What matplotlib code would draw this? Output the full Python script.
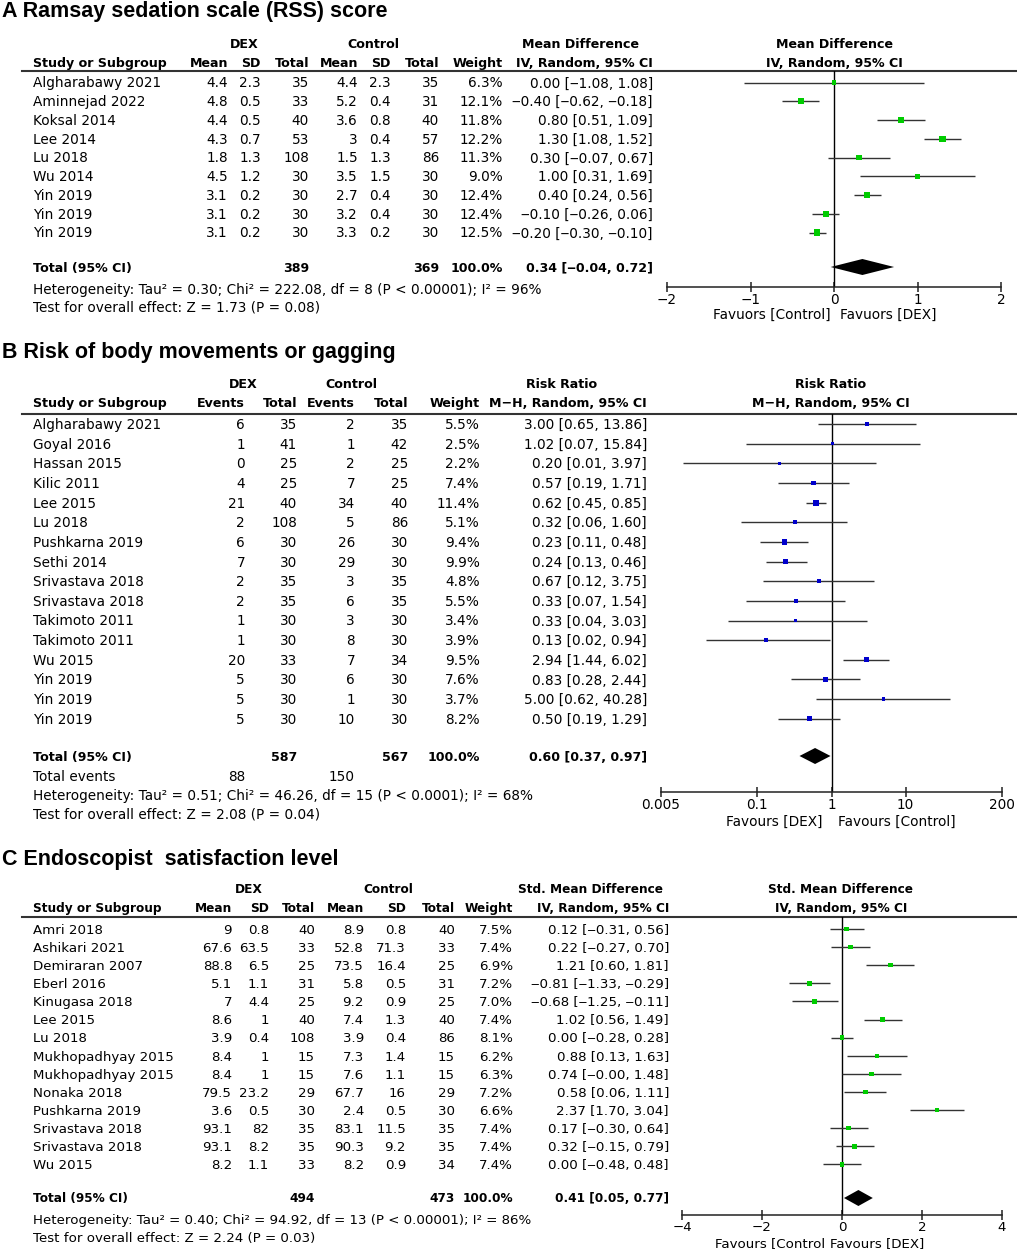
import numpy as np
import matplotlib.pyplot as plt
from matplotlib.ticker import FixedLocator, FixedFormatter, NullLocator

# ---- Panel A: Ramsay sedation scale (mean difference) ----
studies_a = ["Algharabawy 2021", "Aminnejad 2022", "Koksal 2014", "Lee 2014", "Lu 2018",
             "Wu 2014", "Yin 2019", "Yin 2019", "Yin 2019"]
dex_mean_a = [4.4, 4.8, 4.4, 4.3, 1.8, 4.5, 3.1, 3.1, 3.1]
dex_sd_a = [2.3, 0.5, 0.5, 0.7, 1.3, 1.2, 0.2, 0.2, 0.2]
dex_n_a = [35, 33, 40, 53, 108, 30, 30, 30, 30]
ctl_mean_a = [4.4, 5.2, 3.6, 3, 1.5, 3.5, 2.7, 3.2, 3.3]
ctl_sd_a = [2.3, 0.4, 0.8, 0.4, 1.3, 1.5, 0.4, 0.4, 0.2]
ctl_n_a = [35, 31, 40, 57, 86, 30, 30, 30, 30]
weight_a = [6.3, 12.1, 11.8, 12.2, 11.3, 9.0, 12.4, 12.4, 12.5]
est_a = [0.00, -0.40, 0.80, 1.30, 0.30, 1.00, 0.40, -0.10, -0.20]
lo_a = [-1.08, -0.62, 0.51, 1.08, -0.07, 0.31, 0.24, -0.26, -0.30]
hi_a = [1.08, -0.18, 1.09, 1.52, 0.67, 1.69, 0.56, 0.06, -0.10]
total_a = (389, 369)
pooled_a = (0.34, -0.04, 0.72)
het_a = "Heterogeneity: Tau² = 0.30; Chi² = 222.08, df = 8 (P < 0.00001); I² = 96%"
test_a = "Test for overall effect: Z = 1.73 (P = 0.08)"
ticks_a = [-2, -1, 0, 1, 2]

# ---- Panel B: body movements or gagging (risk ratio) ----
studies_b = ["Algharabawy 2021", "Goyal 2016", "Hassan 2015", "Kilic 2011", "Lee 2015",
             "Lu 2018", "Pushkarna 2019", "Sethi 2014", "Srivastava 2018", "Srivastava 2018",
             "Takimoto 2011", "Takimoto 2011", "Wu 2015", "Yin 2019", "Yin 2019", "Yin 2019"]
dex_ev_b = [6, 1, 0, 4, 21, 2, 6, 7, 2, 2, 1, 1, 20, 5, 5, 5]
dex_n_b = [35, 41, 25, 25, 40, 108, 30, 30, 35, 35, 30, 30, 33, 30, 30, 30]
ctl_ev_b = [2, 1, 2, 7, 34, 5, 26, 29, 3, 6, 3, 8, 7, 6, 1, 10]
ctl_n_b = [35, 42, 25, 25, 40, 86, 30, 30, 35, 35, 30, 30, 34, 30, 30, 30]
weight_b = [5.5, 2.5, 2.2, 7.4, 11.4, 5.1, 9.4, 9.9, 4.8, 5.5, 3.4, 3.9, 9.5, 7.6, 3.7, 8.2]
est_b = [3.00, 1.02, 0.20, 0.57, 0.62, 0.32, 0.23, 0.24, 0.67, 0.33, 0.33, 0.13, 2.94, 0.83, 5.00, 0.50]
lo_b = [0.65, 0.07, 0.01, 0.19, 0.45, 0.06, 0.11, 0.13, 0.12, 0.07, 0.04, 0.02, 1.44, 0.28, 0.62, 0.19]
hi_b = [13.86, 15.84, 3.97, 1.71, 0.85, 1.60, 0.48, 0.46, 3.75, 1.54, 3.03, 0.94, 6.02, 2.44, 40.28, 1.29]
total_b = (587, 567)
events_b = (88, 150)
pooled_b = (0.60, 0.37, 0.97)
het_b = "Heterogeneity: Tau² = 0.51; Chi² = 46.26, df = 15 (P < 0.0001); I² = 68%"
test_b = "Test for overall effect: Z = 2.08 (P = 0.04)"
ticks_b = [0.005, 0.1, 1, 10, 200]
ticklabels_b = ["0.005", "0.1", "1", "10", "200"]

# ---- Panel C: endoscopist satisfaction (std. mean difference) ----
studies_c = ["Amri 2018", "Ashikari 2021", "Demiraran 2007", "Eberl 2016", "Kinugasa 2018",
             "Lee 2015", "Lu 2018", "Mukhopadhyay 2015", "Mukhopadhyay 2015", "Nonaka 2018",
             "Pushkarna 2019", "Srivastava 2018", "Srivastava 2018", "Wu 2015"]
dex_mean_c = [9, 67.6, 88.8, 5.1, 7, 8.6, 3.9, 8.4, 8.4, 79.5, 3.6, 93.1, 93.1, 8.2]
dex_sd_c = [0.8, 63.5, 6.5, 1.1, 4.4, 1, 0.4, 1, 1, 23.2, 0.5, 82, 8.2, 1.1]
dex_n_c = [40, 33, 25, 31, 25, 40, 108, 15, 15, 29, 30, 35, 35, 33]
ctl_mean_c = [8.9, 52.8, 73.5, 5.8, 9.2, 7.4, 3.9, 7.3, 7.6, 67.7, 2.4, 83.1, 90.3, 8.2]
ctl_sd_c = [0.8, 71.3, 16.4, 0.5, 0.9, 1.3, 0.4, 1.4, 1.1, 16, 0.5, 11.5, 9.2, 0.9]
ctl_n_c = [40, 33, 25, 31, 25, 40, 86, 15, 15, 29, 30, 35, 35, 34]
weight_c = [7.5, 7.4, 6.9, 7.2, 7.0, 7.4, 8.1, 6.2, 6.3, 7.2, 6.6, 7.4, 7.4, 7.4]
est_c = [0.12, 0.22, 1.21, -0.81, -0.68, 1.02, 0.00, 0.88, 0.74, 0.58, 2.37, 0.17, 0.32, 0.00]
lo_c = [-0.31, -0.27, 0.60, -1.33, -1.25, 0.56, -0.28, 0.13, -0.00, 0.06, 1.70, -0.30, -0.15, -0.48]
hi_c = [0.56, 0.70, 1.81, -0.29, -0.11, 1.49, 0.28, 1.63, 1.48, 1.11, 3.04, 0.64, 0.79, 0.48]
total_c = (494, 473)
pooled_c = (0.41, 0.05, 0.77)
het_c = "Heterogeneity: Tau² = 0.40; Chi² = 94.92, df = 13 (P < 0.00001); I² = 86%"
test_c = "Test for overall effect: Z = 2.24 (P = 0.03)"
ticks_c = [-4, -2, 0, 2, 4]

GREEN = "#00cc00"
BLUE = "#0000cc"
LINE = "#333333"

W, H = 1017, 1252
fig = plt.figure(figsize=(W / 100, H / 100), dpi=100)
page = fig.add_axes([0, 0, 1, 1])
page.set_xlim(0, W)
page.set_ylim(H, 0)
page.axis("off")

FS = 9.8
BOLD_SCALE = 0.93


def txt(x, y, s, ha="left", bold=False, size=FS):
    # y is the vertical centre of the capital letters
    if bold:
        size = size * BOLD_SCALE
    page.text(x, y + size * 0.51, s, ha=ha, va="baseline", fontsize=size,
              fontweight="bold" if bold else "normal", family="DejaVu Sans")


def title(y, s):
    page.text(2, y, s, ha="left", va="baseline", fontsize=15.5,
              fontweight="bold", family="Liberation Sans")


def ci(e, l, h):
    return f"{e:.2f} [{l:.2f}, {h:.2f}]".replace("-", "\u2012")


def forest(x0, x1, top, axis_y, xlim, ticks, labels, rows_y, est, lo, hi, weight,
           color, pooled, pooled_y, ref=0, log=False, size=FS):
    ax = fig.add_axes([x0 / W, 1 - axis_y / H, (x1 - x0) / W, (axis_y - top) / H])
    ax.set_facecolor("none")
    if log:
        ax.set_xscale("log")
    ax.set_xlim(*xlim)
    ax.set_ylim(axis_y, top)
    for s in ["top", "left", "right"]:
        ax.spines[s].set_visible(False)
    ax.spines["bottom"].set_linewidth(1.1)
    ax.spines["bottom"].set_color("#222222")
    ax.yaxis.set_visible(False)
    ax.xaxis.set_major_locator(FixedLocator(ticks))
    ax.xaxis.set_major_formatter(FixedFormatter(labels))
    ax.xaxis.set_minor_locator(NullLocator())
    ax.tick_params(axis="x", direction="inout", length=7, width=1.1,
                   color="#222222", pad=1, labelsize=size)
    ax.axvline(ref, color="black", lw=1.0)
    ax.hlines(rows_y, lo, hi, color=LINE, lw=1.0)
    side = 1.75 * np.sqrt(np.array(weight)) * 0.72
    ax.scatter(est, rows_y, marker="s", s=side ** 2, color=color,
               linewidths=0, zorder=3)
    e, l, h = pooled
    ax.fill([l, e, h, e], [pooled_y, pooled_y - 8, pooled_y, pooled_y + 8],
            color="black", lw=0, zorder=3)
    return ax


# ================= Panel A =================
title(17, "A Ramsay sedation scale (RSS) score")
txt(244, 43, "DEX", ha="center", bold=True)
txt(373, 43, "Control", ha="center", bold=True)
txt(580, 43, "Mean Difference", ha="center", bold=True)
txt(834, 43, "Mean Difference", ha="center", bold=True)
txt(33, 62, "Study or Subgroup", bold=True)
cols_a = [228, 261, 309, 358, 391, 439, 503]
for x, s in zip(cols_a, ["Mean", "SD", "Total", "Mean", "SD", "Total", "Weight"]):
    txt(x, 62, s, ha="right", bold=True)
txt(653, 62, "IV, Random, 95% CI", ha="right", bold=True)
txt(834, 62, "IV, Random, 95% CI", ha="center", bold=True)
page.plot([22, W], [71, 71], color="#333333", lw=1.5)

rows_a = 82.5 + 18.75 * np.arange(len(studies_a))
for i, y in enumerate(rows_a):
    txt(33, y, studies_a[i])
    vals = [f"{dex_mean_a[i]:g}", f"{dex_sd_a[i]:g}", str(dex_n_a[i]),
            f"{ctl_mean_a[i]:g}", f"{ctl_sd_a[i]:g}", str(ctl_n_a[i]),
            f"{weight_a[i]:.1f}%"]
    for x, s in zip(cols_a, vals):
        txt(x, y, s, ha="right")
    txt(653, y, ci(est_a[i], lo_a[i], hi_a[i]), ha="right")

txt(33, 267, "Total (95% CI)", bold=True)
txt(309, 267, str(total_a[0]), ha="right", bold=True)
txt(439, 267, str(total_a[1]), ha="right", bold=True)
txt(503, 267, "100.0%", ha="right", bold=True)
txt(653, 267, ci(*pooled_a), ha="right", bold=True)
txt(33, 289, het_a)
txt(33, 307, test_a)

forest(667, 1001, 71, 287, (-2, 2), ticks_a, ["\u22122", "\u22121", "0", "1", "2"],
       rows_a, est_a, lo_a, hi_a, weight_a, GREEN, pooled_a, 267, ref=0)
txt(831, 314, "Favuors [Control]", ha="right")
txt(840, 314, "Favuors [DEX]")

# ================= Panel B =================
title(358, "B Risk of body movements or gagging")
txt(243, 383, "DEX", ha="center", bold=True)
txt(351, 383, "Control", ha="center", bold=True)
txt(562, 383, "Risk Ratio", ha="center", bold=True)
txt(831, 383, "Risk Ratio", ha="center", bold=True)
txt(33, 402, "Study or Subgroup", bold=True)
cols_b = [245, 297, 355, 408, 480]
for x, s in zip(cols_b, ["Events", "Total", "Events", "Total", "Weight"]):
    txt(x, 402, s, ha="right", bold=True)
txt(647, 402, "M\u2212H, Random, 95% CI", ha="right", bold=True)
txt(831, 402, "M\u2212H, Random, 95% CI", ha="center", bold=True)
page.plot([22, W], [413.5, 413.5], color="#333333", lw=1.5)

rows_b = 424 + 19.65 * np.arange(len(studies_b))
for i, y in enumerate(rows_b):
    txt(33, y, studies_b[i])
    vals = [str(dex_ev_b[i]), str(dex_n_b[i]), str(ctl_ev_b[i]), str(ctl_n_b[i]),
            f"{weight_b[i]:.1f}%"]
    for x, s in zip(cols_b, vals):
        txt(x, y, s, ha="right")
    txt(647, y, ci(est_b[i], lo_b[i], hi_b[i]), ha="right")

txt(33, 756, "Total (95% CI)", bold=True)
txt(297, 756, str(total_b[0]), ha="right", bold=True)
txt(408, 756, str(total_b[1]), ha="right", bold=True)
txt(480, 756, "100.0%", ha="right", bold=True)
txt(647, 756, ci(*pooled_b), ha="right", bold=True)
txt(33, 776, "Total events")
txt(245, 776, str(events_b[0]), ha="right")
txt(355, 776, str(events_b[1]), ha="right")
txt(33, 795, het_b)
txt(33, 814, test_b)

forest(661, 1002, 413.5, 792, (0.005, 200), ticks_b, ticklabels_b,
       rows_b, est_b, lo_b, hi_b, weight_b, BLUE, pooled_b, 756, ref=1, log=True)
txt(823, 821, "Favours [DEX]", ha="right")
txt(838, 821, "Favours [Control]")

# ================= Panel C =================
FC = FS * 0.98
FCB = FS * 0.96
title(865, "C Endoscopist  satisfaction level")
txt(249, 889, "DEX", ha="center", bold=True, size=FCB)
txt(388, 889, "Control", ha="center", bold=True, size=FCB)
txt(591, 889, "Std. Mean Difference", ha="center", bold=True, size=FCB)
txt(841, 889, "Std. Mean Difference", ha="center", bold=True, size=FCB)
txt(33, 907.5, "Study or Subgroup", bold=True, size=FCB)
cols_c = [232, 269, 315, 364, 406, 455, 513]
for x, s in zip(cols_c, ["Mean", "SD", "Total", "Mean", "SD", "Total", "Weight"]):
    txt(x, 907.5, s, ha="right", bold=True, size=FCB)
txt(669, 907.5, "IV, Random, 95% CI", ha="right", bold=True, size=FCB)
txt(841, 907.5, "IV, Random, 95% CI", ha="center", bold=True, size=FCB)
page.plot([22, W], [917, 917], color="#333333", lw=1.5)

rows_c = 929 + 18.1 * np.arange(len(studies_c))
for i, y in enumerate(rows_c):
    txt(33, y, studies_c[i], size=FC)
    vals = [f"{dex_mean_c[i]:g}", f"{dex_sd_c[i]:g}", str(dex_n_c[i]),
            f"{ctl_mean_c[i]:g}", f"{ctl_sd_c[i]:g}", str(ctl_n_c[i]),
            f"{weight_c[i]:.1f}%"]
    for x, s in zip(cols_c, vals):
        txt(x, y, s, ha="right", size=FC)
    txt(669, y, ci(est_c[i], lo_c[i], hi_c[i]), ha="right", size=FC)

txt(33, 1198, "Total (95% CI)", bold=True, size=FCB)
txt(315, 1198, str(total_c[0]), ha="right", bold=True, size=FCB)
txt(455, 1198, str(total_c[1]), ha="right", bold=True, size=FCB)
txt(513, 1198, "100.0%", ha="right", bold=True, size=FCB)
txt(669, 1198, ci(*pooled_c), ha="right", bold=True, size=FCB)
txt(33, 1219, het_c, size=FC)
txt(33, 1237, test_c, size=FC)

forest(682, 1002, 917, 1215, (-4, 4), ticks_c, ["\u22124", "\u22122", "0", "2", "4"],
       rows_c, est_c, lo_c, hi_c, weight_c, GREEN, pooled_c, 1198, ref=0, size=FC)
txt(825, 1242, "Favours [Control", ha="right", size=FC)
txt(830, 1242, "Favours [DEX]", size=FC)

fig.savefig("out.png", dpi=100)
